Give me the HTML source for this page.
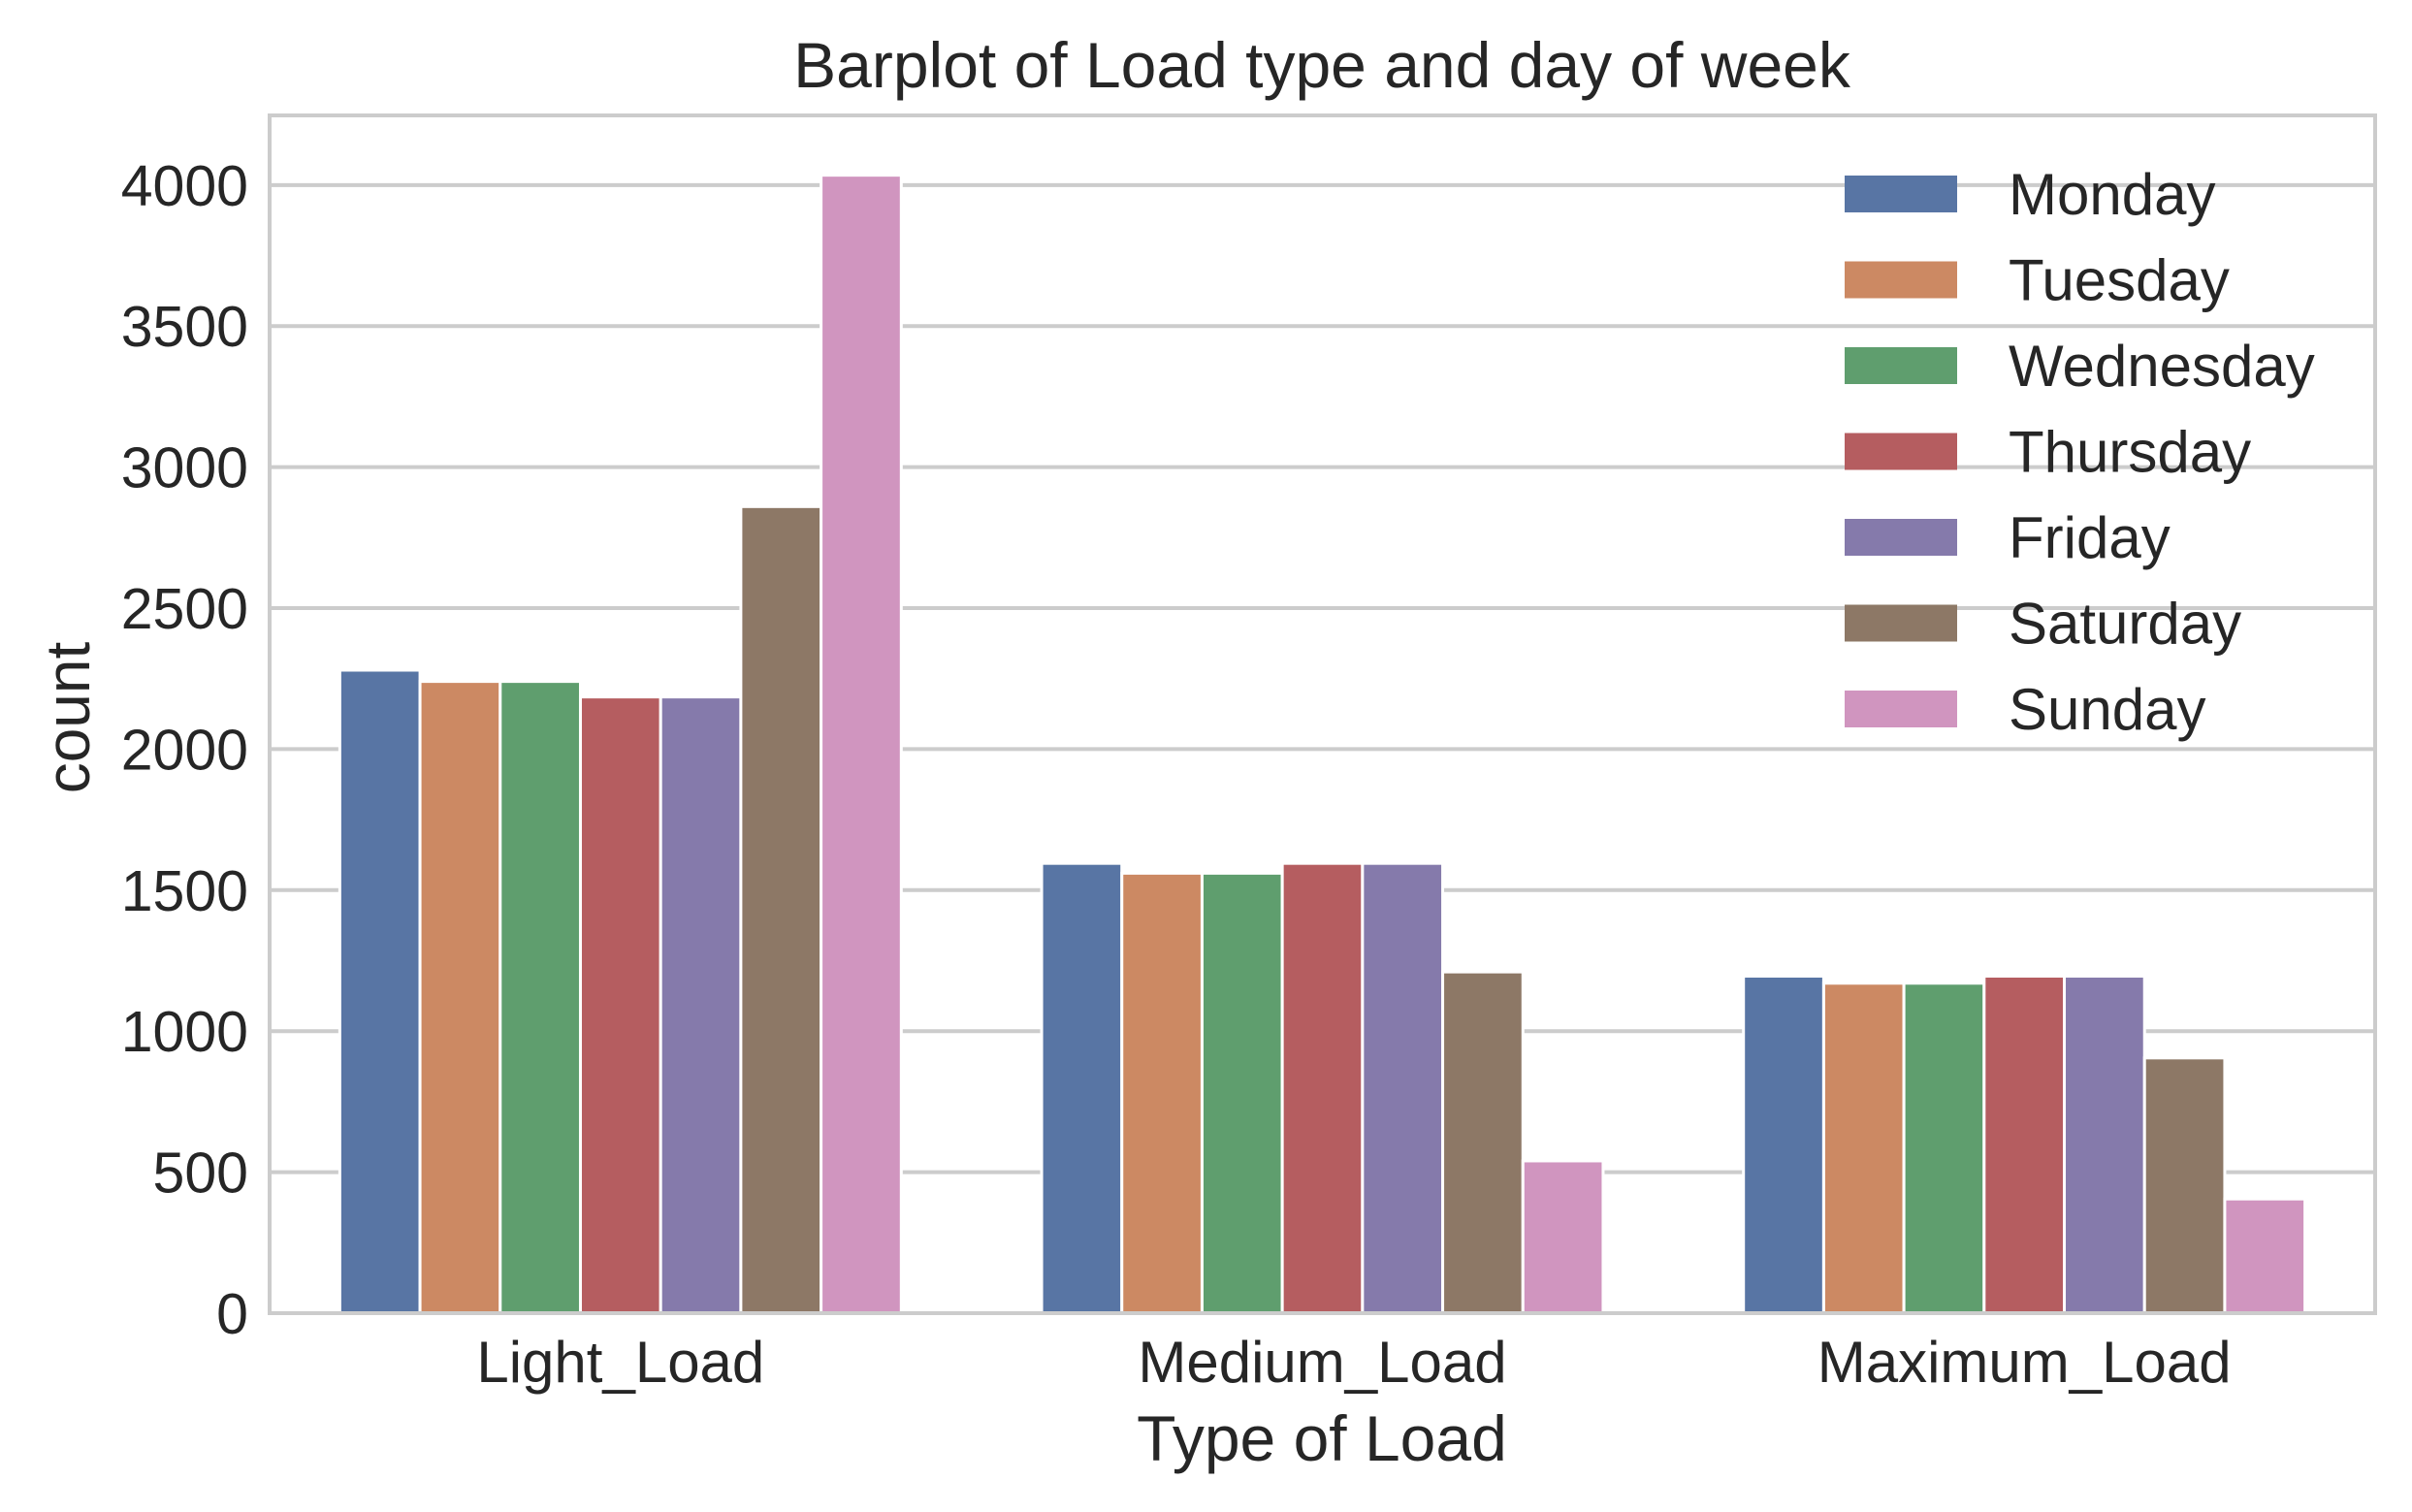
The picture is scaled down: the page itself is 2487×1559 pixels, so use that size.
<!DOCTYPE html>
<html><head><meta charset="utf-8"><style>
body{margin:0;background:#fff}
svg text{font-family:"Liberation Sans",Arial,sans-serif;fill:#262626}
</style></head><body>
<svg id="chart" width="2487" height="1554" viewBox="0 0 2487 1554" xmlns="http://www.w3.org/2000/svg">
<rect width="2487" height="1554" fill="#fff"/>
<g id="grid"></g>
<g id="bars"></g>
<g id="axes"></g>
<g id="legend"></g>
<text x="1363" y="90" font-size="66" text-anchor="middle">Barplot of Load type and day of week</text>
<text x="1363" y="1506" font-size="66" text-anchor="middle">Type of Load</text>
<text x="0" y="0" font-size="64" text-anchor="middle" transform="translate(92,740) rotate(-90)">count</text>
</svg>
<script>
const categories = ["Light_Load","Medium_Load","Maximum_Load"];
const days = ["Monday","Tuesday","Wednesday","Thursday","Friday","Saturday","Sunday"];
const colors = ["#5875a4","#cc8963","#5f9e6e","#b55d60","#857aab","#8d7866","#d095bf"];
const monday = [2280,1595,1195];
const tuesday = [2240,1560,1170];
const wednesday = [2240,1560,1170];
const thursday = [2185,1595,1195];
const friday = [2185,1595,1195];
const saturday = [2860,1210,905];
const sunday = [4035,540,405];
const series = [monday,tuesday,wednesday,thursday,friday,saturday,sunday];
const yTicks = [0,500,1000,1500,2000,2500,3000,3500,4000];

const NS="http://www.w3.org/2000/svg";
const L=278,R=2449,T=119,B=1354,yMax=4247;
const y=v=>B-(v/yMax)*(B-T);
const step=(R-L)/categories.length;
const xc=i=>L+step*(i+0.5);
function mk(tag,attrs,parent){const e=document.createElementNS(NS,tag);for(const k in attrs)e.setAttribute(k,attrs[k]);parent.appendChild(e);return e;}
const grid=document.getElementById('grid'),bars=document.getElementById('bars'),axes=document.getElementById('axes'),leg=document.getElementById('legend');
yTicks.forEach(t=>{
  const ln=mk('line',{x1:L,x2:R,y1:y(t),y2:y(t),stroke:'#cccccc','stroke-width':4},grid);
  
  
  const tx=mk('text',{x:L-22,y:y(t)+21,'font-size':59,'text-anchor':'end'},axes);
  tx.textContent=t;
  
  
});
const gw=step*0.8,bw=gw/days.length;
series.forEach((s,d)=>{
  s.forEach((v,i)=>{
    const x0=xc(i)-gw/2+d*bw;
    const r=mk('rect',{x:x0,y:y(v),width:bw,height:B-y(v),fill:colors[d],stroke:'#fff','stroke-width':3},bars);
    
    
  });
});
categories.forEach((c,i)=>{
  const tx=mk('text',{x:xc(i),y:1425,'font-size':60,'text-anchor':'middle'},axes);
  tx.textContent=c;
  
  
});
const frame=mk('rect',{x:L,y:T,width:R-L,height:B-T,fill:'none',stroke:'#cccccc','stroke-width':4},axes);


days.forEach((d,k)=>{
  const cy=200+k*88.5;
  const p=mk('rect',{x:1902,y:cy-19,width:116,height:38,fill:colors[k]},leg);
  
  
  const tx=mk('text',{x:2071,y:cy+21,'font-size':60},leg);
  tx.textContent=d;
  
  
});
</script>
</body></html>
